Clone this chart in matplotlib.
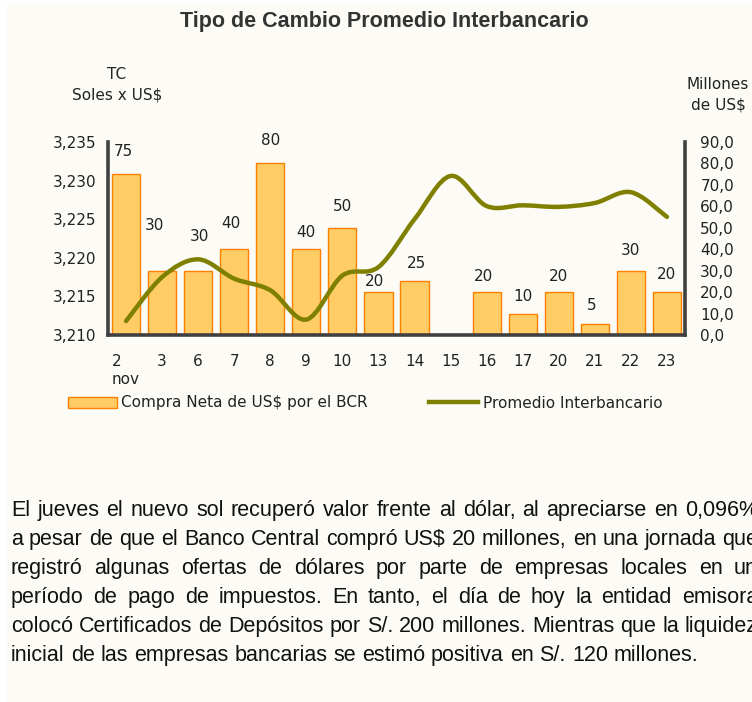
import matplotlib
matplotlib.use("Agg")
import matplotlib.pyplot as plt
from matplotlib.path import Path
from matplotlib.patches import PathPatch, Rectangle
from matplotlib.lines import Line2D
import numpy as np

plt.rcParams['font.family'] = ['DejaVu Sans']

# datos del grafico
dias = ['2\nnov', '3', '6', '7', '8', '9', '10', '13', '14', '15', '16', '17', '20', '21', '22', '23']
compra_bcr = [75, 30, 30, 40, 80, 40, 50, 20, 25, 0, 20, 10, 20, 5, 30, 20]
tc_promedio = [3.2118, 3.2175, 3.2198, 3.2173, 3.2158, 3.2120, 3.2177, 3.2188,
               3.2250, 3.2306, 3.2267, 3.2268, 3.2266, 3.2271, 3.2285, 3.2253]
# posicion de las etiquetas (en millones de US$, eje derecho)
etiqueta_y = [85.4, 51.2, 45.7, 52.2, 90.5, 48.0, 60.0, 24.9, 33.2, None,
              27.2, 18.0, 27.2, 13.8, 39.2, 28.2]
etiqueta_dx = [-0.08, -0.2, 0.05, -0.08, 0, 0, 0, -0.12, 0.05, 0, -0.1, 0, 0, -0.1, 0, 0]

tc_ticks = [3.210, 3.215, 3.220, 3.225, 3.230, 3.235]
mill_ticks = [0, 10, 20, 30, 40, 50, 60, 70, 80, 90]

parrafo = [
    "El jueves el nuevo sol recuperó valor frente al dólar, al apreciarse en 0,096%",
    "a pesar de que el Banco Central compró US$ 20 millones, en una jornada que",
    "registró algunas ofertas de dólares por parte de empresas locales en un",
    "período de pago de impuestos. En tanto, el día de hoy la entidad emisora",
    "colocó Certificados de Depósitos por S/. 200 millones. Mientras que la liquidez",
    "inicial de las empresas bancarias se estimó positiva en S/. 120 millones.",
]

W, H = 752, 702
fs = 11
fig = plt.figure(figsize=(W / 100, H / 100), dpi=100, facecolor='white')
fig.patches.append(Rectangle((7 / W, 0), 1, 1 - 3 / H, transform=fig.transFigure,
                             facecolor='#FCFBF6', edgecolor='none', zorder=-10))

def px(x, y):
    return x / W, 1 - y / H

# ejes
l, r, t, b = 108, 685, 142, 335
ax2 = fig.add_axes([l / W, 1 - b / H, (r - l) / W, (b - t) / H])
ax = ax2.twinx()
ax2.set_zorder(1)
ax.set_zorder(2)
ax2.patch.set_visible(False)
ax.patch.set_visible(False)

x = np.arange(len(dias))
ax2.bar(x, compra_bcr, width=0.78, color='#FFCC66', edgecolor='#FF8000', linewidth=1.0)
ax2.set_ylim(0, 90)
ax2.set_xlim(-0.5, len(dias) - 0.5)
ax2.yaxis.tick_right()
ax2.set_yticks(mill_ticks)
ax2.set_yticklabels([f"{v:.1f}".replace('.', ',') for v in mill_ticks])
ax2.set_xticks(x)
ax2.set_xticklabels(dias)
for lab in ax2.get_xticklabels():
    lab.set_multialignment('left')

for i, v in enumerate(compra_bcr):
    if etiqueta_y[i] is None:
        continue
    ax2.text(x[i] + etiqueta_dx[i], etiqueta_y[i], str(v), ha='center', va='center',
             fontsize=fs, color='#222222')

# linea suavizada (bezier tipo Excel)
pts = np.column_stack([x, tc_promedio])
verts = [tuple(pts[0])]
codes = [Path.MOVETO]
n = len(pts)
for i in range(n - 1):
    p0 = pts[max(i - 1, 0)]
    p1 = pts[i]
    p2 = pts[i + 1]
    p3 = pts[min(i + 2, n - 1)]
    c1 = p1 + (p2 - p0) / 6
    c2 = p2 - (p3 - p1) / 6
    verts += [tuple(c1), tuple(c2), tuple(p2)]
    codes += [Path.CURVE4] * 3
ax.add_patch(PathPatch(Path(verts, codes), facecolor='none', edgecolor='#808000',
                       linewidth=3.2, capstyle='round', joinstyle='round'))
ax.set_ylim(3.210, 3.235)
ax.yaxis.tick_left()
ax.set_yticks(tc_ticks)
ax.set_yticklabels([f"{v:.3f}".replace('.', ',') for v in tc_ticks])
ax.tick_params(axis='x', length=0, labelbottom=False, labeltop=False)

for a in (ax, ax2):
    for s in a.spines.values():
        s.set_visible(False)
for s in ('left', 'bottom', 'right'):
    ax2.spines[s].set_visible(True)
    ax2.spines[s].set_color('#404040')
    ax2.spines[s].set_linewidth(2.6)
    ax2.spines[s].set_capstyle('projecting')

ax.tick_params(axis='y', length=0, pad=8.5, labelsize=fs, labelcolor='#222222')
ax2.tick_params(axis='y', length=0, pad=11, labelsize=fs, labelcolor='#222222')
ax2.tick_params(axis='x', length=0, pad=14, labelsize=fs, labelcolor='#222222')

# textos
fig.text(*px(384, 22), "Tipo de Cambio Promedio Interbancario", ha='center', va='center',
         fontsize=15.5, fontweight='bold', family='Liberation Sans', color='#333333')
fig.text(*px(117, 85), "TC\nSoles x US$", ha='center', va='center', fontsize=fs,
         color='#222222', multialignment='center', linespacing=1.5)
fig.text(*px(718, 95), "Millones\nde US$", ha='center', va='center', fontsize=fs,
         color='#222222', multialignment='center', linespacing=1.5)

# leyenda
h1 = Rectangle((0, 0), 1, 1, facecolor='#FFCC66', edgecolor='#FF8000', linewidth=1.0)
h2 = Line2D([0], [0], color='#808000', linewidth=3.2)
fig.legend([h1, h2], ["Compra Neta de US$ por el BCR", "Promedio Interbancario"],
           loc='center left', bbox_to_anchor=px(68, 403), ncol=2, frameon=False,
           fontsize=fs, handlelength=3.2, handletextpad=0.3, columnspacing=4.0,
           borderpad=0, borderaxespad=0, labelcolor='#222222')

# parrafo justificado (el borde derecho queda recortado como en el original)
renderer = fig.canvas.get_renderer()
pfs = 15.5
x0, x1 = 11, 758
y_base = [516, 545, 574, 603, 632, 661]
for k, linea in enumerate(parrafo):
    palabras = linea.split(' ')
    objs = [fig.text(0, 1 - y_base[k] / H, p, ha='left', va='baseline', fontsize=pfs,
                     family='Liberation Sans', color='#111111') for p in palabras]
    anchos = [o.get_window_extent(renderer).width for o in objs]
    if k < len(parrafo) - 1:
        hueco = (x1 - x0 - sum(anchos)) / (len(palabras) - 1)
    else:
        esp = fig.text(0, 0, ' ', fontsize=pfs, family='Liberation Sans')
        hueco = esp.get_window_extent(renderer).width
        esp.remove()
    xp = x0
    for o, w in zip(objs, anchos):
        o.set_x(xp / W)
        xp += w + hueco

fig.savefig('out.png', dpi=100, facecolor=fig.get_facecolor())
